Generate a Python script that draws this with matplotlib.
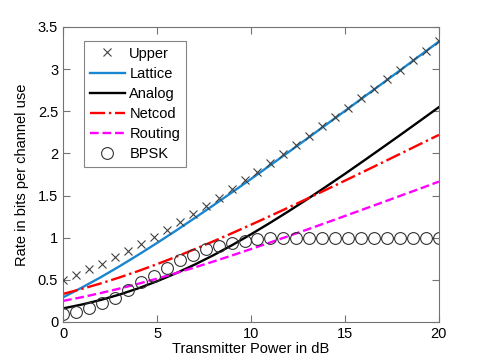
import matplotlib
matplotlib.use("Agg")
import matplotlib.pyplot as plt

plt.rcParams["font.family"] = ["Liberation Sans", "DejaVu Sans"]

# marker series (30 points from 0 to 20 dB)
x_mark = [0.0, 0.690, 1.379, 2.069, 2.759, 3.448, 4.138, 4.828, 5.517, 6.207,
          6.897, 7.586, 8.276, 8.966, 9.655, 10.345, 11.034, 11.724, 12.414, 13.103,
          13.793, 14.483, 15.172, 15.862, 16.552, 17.241, 17.931, 18.621, 19.310, 20.0]
upper = [0.500, 0.560, 0.624, 0.692, 0.765, 0.842, 0.923, 1.007, 1.095, 1.186,
         1.280, 1.376, 1.475, 1.575, 1.678, 1.782, 1.888, 1.994, 2.102, 2.211,
         2.320, 2.431, 2.541, 2.653, 2.765, 2.877, 2.990, 3.102, 3.216, 3.329]
bpsk = [0.09, 0.115, 0.16, 0.22, 0.29, 0.38, 0.47, 0.55, 0.64, 0.73,
        0.80, 0.86, 0.90, 0.94, 0.96, 0.98, 0.995, 1.0, 1.0, 1.0,
        1.0, 1.0, 1.0, 1.0, 1.0, 1.0, 1.0, 1.0, 1.0, 1.0]

# line series (every dB)
x_line = list(range(21))
lattice = [0.292, 0.408, 0.530, 0.660, 0.796, 0.937, 1.082, 1.232, 1.384, 1.539, 1.696,
           1.855, 2.015, 2.177, 2.340, 2.503, 2.667, 2.831, 2.995, 3.161, 3.326]
analog = [0.161, 0.207, 0.261, 0.325, 0.399, 0.483, 0.577, 0.680, 0.792, 0.912, 1.040,
          1.174, 1.313, 1.457, 1.606, 1.757, 1.912, 2.069, 2.227, 2.387, 2.548]
netcod = [0.333, 0.392, 0.457, 0.528, 0.604, 0.686, 0.772, 0.863, 0.957, 1.054, 1.153,
          1.255, 1.358, 1.463, 1.569, 1.676, 1.784, 1.892, 2.001, 2.110, 2.219]
routing = [0.250, 0.294, 0.343, 0.396, 0.453, 0.514, 0.579, 0.647, 0.717, 0.790, 0.865,
           0.941, 1.019, 1.097, 1.177, 1.257, 1.338, 1.419, 1.501, 1.582, 1.665]

fig = plt.figure(figsize=(4.85, 3.63), dpi=100)
ax = fig.add_axes([0.130, 0.113, 0.775, 0.813])

ax.plot(x_mark, upper, "x", color="0.25", ms=5.5, mew=0.8, label="Upper", zorder=3)
ax.plot(x_line, lattice, "-", color="#1a86d0", lw=1.7, label="Lattice")
ax.plot(x_line, analog, "-", color="black", lw=1.7, label="Analog")
ax.plot(x_line, netcod, "-.", color="red", lw=1.7, label="Netcod")
ax.plot(x_line, routing, "--", color="magenta", lw=1.7, label="Routing")
ax.plot(x_mark, bpsk, "o", mfc="none", mec="0.2", ms=8.5, mew=0.8, label="BPSK")

ax.set_xlim(0, 20)
ax.set_ylim(0, 3.5)
ax.set_xticks([0, 5, 10, 15, 20])
ax.set_yticks([0, 0.5, 1, 1.5, 2, 2.5, 3, 3.5])
ax.set_yticklabels(["0", "0.5", "1", "1.5", "2", "2.5", "3", "3.5"])
ax.tick_params(direction="in", top=True, right=True, labelsize=10.5, length=5, color="0.45")
for s in ax.spines.values():
    s.set_color("0.45")
ax.set_xlabel("Transmitter Power in dB", fontsize=10.5, labelpad=1)
ax.set_ylabel("Rate in bits per channel use", fontsize=10.5, labelpad=6)

leg = ax.legend(loc="upper left", bbox_to_anchor=(0.056, 0.953), borderaxespad=0,
                fontsize=10.5, frameon=True, fancybox=False, handlelength=2.4,
                handletextpad=0.3, borderpad=0.4, labelspacing=0.42)
leg.get_frame().set_edgecolor("0.4")
leg.get_frame().set_linewidth(0.8)

fig.savefig("out.png", dpi=100)
